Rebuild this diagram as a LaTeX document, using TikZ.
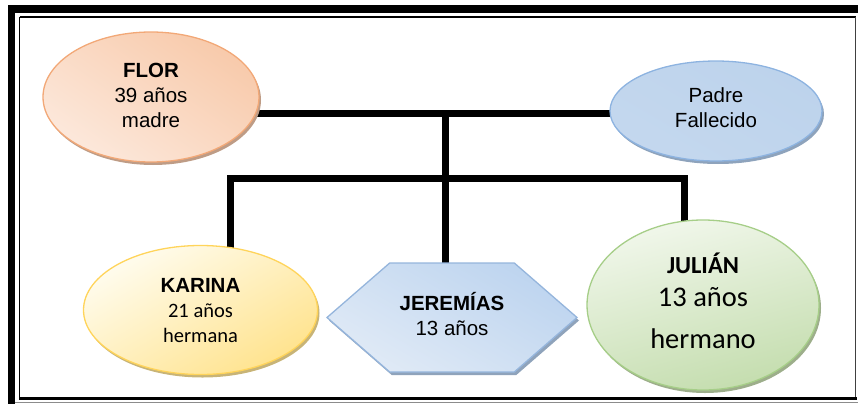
\documentclass[tikz,border=0pt]{standalone}
\usepackage{fontspec}
\setmainfont{Liberation Sans}
\newfontfamily\calib{Carlito}
\usetikzlibrary{shapes.geometric,shapes.symbols,shadows,backgrounds}
\definecolor{florA}{HTML}{FCE8DB}
\definecolor{florB}{HTML}{F8CAAB}
\definecolor{florL}{HTML}{F2A877}
\definecolor{florS}{HTML}{BE9C86}
\definecolor{padA}{HTML}{DFEAF6}
\definecolor{padB}{HTML}{BDD3EC}
\definecolor{padL}{HTML}{8DB3E0}
\definecolor{padS}{HTML}{8EA3BC}
\definecolor{karA}{HTML}{FFFCEE}
\definecolor{karB}{HTML}{FFE38E}
\definecolor{karL}{HTML}{FFD45A}
\definecolor{karS}{HTML}{C8B477}
\definecolor{jerA}{HTML}{BDD4EF}
\definecolor{jerB}{HTML}{E0EAF6}
\definecolor{jerL}{HTML}{95B5DC}
\definecolor{jerS}{HTML}{8FA3BB}
\definecolor{julA}{HTML}{F1F7EB}
\definecolor{julB}{HTML}{C4DDAE}
\definecolor{julL}{HTML}{A6CE88}
\definecolor{julS}{HTML}{9DAE8B}
\tikzset{
  conn/.style={line width=7pt, line join=miter, draw=black},
  person/.style={ellipse, inner sep=0pt, align=center, line width=1.3pt,
    font=\fontsize{20.5}{25}\selectfont, text depth=0pt},
  shad/.style={drop shadow={shadow xshift=2pt, shadow yshift=-3pt, fill=#1, opacity=1}},
  frameline/.style={line width=1.5pt, draw=black}
}
\begin{document}
\begin{tikzpicture}[x=1pt,y=-1pt]
\useasboundingbox (0,0) rectangle (858,404);
% frame
\fill[black] (8,5) rectangle (858,13);
\fill[black] (8,5) rectangle (15,404);
\draw[frameline] (19.5,17) -- (856,17);
\draw[frameline] (19.5,17) -- (19.5,398);
\draw[line width=1.5pt, draw=black!75] (855.5,17) -- (855.5,398);
\draw[line width=2.5pt] (19,398.5) -- (857,398.5);
\draw[line width=1pt, draw=black!45] (15,402.5) -- (858,402.5);
% nodes
\node[person, minimum width=216pt, minimum height=130pt, text height=60pt,
  draw=florL, top color=florB, bottom color=florA, shading angle=-35, shad=florS]
  (flor) at (151,97) {\textbf{FLOR}\\39 años\\madre};
\node[person, minimum width=212pt, minimum height=100pt, text height=32pt,
  draw=padL, top color=padB, middle color=padA, bottom color=padB!80!padA, shading angle=-30, shad=padS]
  (padre) at (716,111) {Padre\\Fallecido};
\node[person, minimum width=234pt, minimum height=129pt, text height=64pt,
  draw=karL, top color=karA, bottom color=karB, shading angle=30, shad=karS]
  (kar) at (200.5,310) {\textbf{KARINA}\\{\calib 21 años}\\{\calib hermana}};
\node[signal, signal to=west and east, signal pointer angle=82, inner sep=0pt,
  minimum width=250pt, minimum height=109pt, align=center, line width=1.3pt,
  font=\fontsize{20.5}{25}\selectfont, text height=35pt, text depth=0pt,
  draw=jerL, top color=jerA, bottom color=jerB, shading angle=-30, shad=jerS]
  (jer) at (452,317.5) {\textbf{JEREMÍAS}\\13 años};
\node[person, minimum width=232pt, minimum height=170pt, text height=86pt,
  font=\calib\fontsize{28.5}{33}\selectfont,
  draw=julL, top color=julA, bottom color=julB, shading angle=15, shad=julS]
  (jul) at (703,305) {{\bfseries\fontsize{24.5}{33}\selectfont JULIÁN}\\13 años\\[9pt]hermano};
% connectors
\coordinate (tj) at (445.5,113.5);
\coordinate (lj) at (230.5,178.5);
\coordinate (rj) at (684,178.5);
\begin{pgfonlayer}{background}
\draw[conn] (flor.center |- tj) -- (padre.center |- tj);
\draw[conn] (tj) -- (tj |- jer.center);
\draw[conn] (lj |- kar.center) -- (lj) -- (rj) -- (rj |- jul.center);
\end{pgfonlayer}
\end{tikzpicture}
\end{document}
